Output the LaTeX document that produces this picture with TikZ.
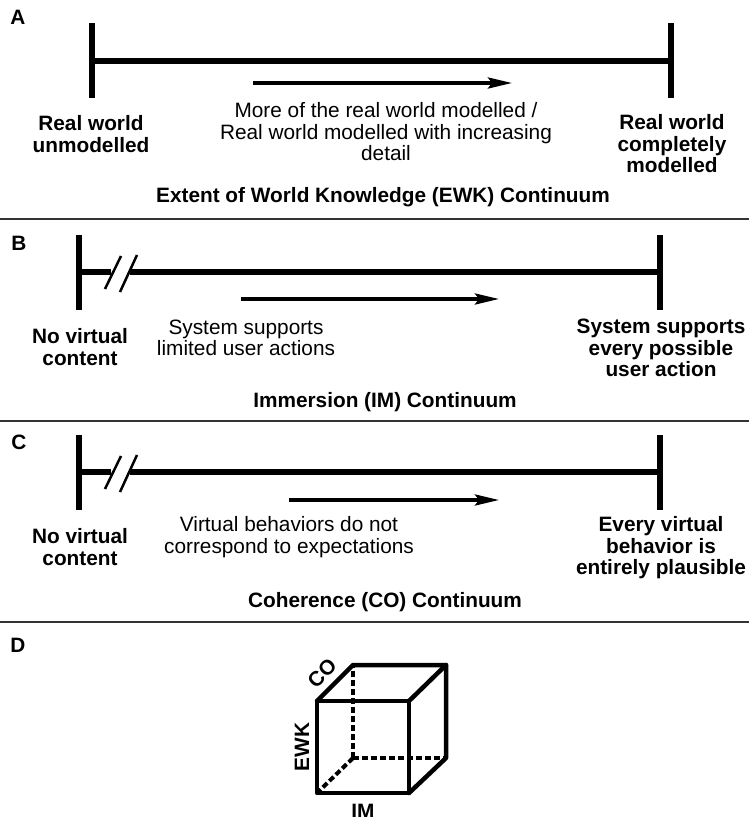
\documentclass[tikz,border=0pt]{standalone}
\usepackage{fontspec}
\setmainfont{Liberation Sans}
\usetikzlibrary{arrows.meta}
\newcommand{\labsize}{\fontsize{20.8}{21.5}\selectfont}
\tikzstyle{endbar}=[line width=6pt]
\tikzstyle{scalebar}=[line width=6pt]
\tikzstyle{slash}=[line width=2.5pt]
\tikzstyle{divider}=[line width=2pt, draw=black!80]
\tikzstyle{dirarrow}=[line width=3.5pt, -{Stealth[length=24pt,width=11pt,inset=4pt]}]
\tikzstyle{panel}=[font=\labsize\bfseries, inner sep=0pt]
\tikzstyle{endlabel}=[font=\labsize\bfseries, align=center, inner sep=0pt]
\tikzstyle{midlabel}=[font=\labsize, align=center, inner sep=0pt]
\tikzstyle{cubeedge}=[line width=4.5pt, line cap=round, line join=round]
\tikzstyle{hidden}=[line width=4pt, dash pattern=on 6pt off 3pt]
\begin{document}
\begin{tikzpicture}[x=1pt, y=-1pt]
    \useasboundingbox (0,0) rectangle (749,817);
    % A
    \node[panel] (pA) at (18,17) {A};
    \coordinate (a1t) at (92,23);
    \coordinate (a1b) at (92,98);
    \coordinate (a2t) at (671,23);
    \coordinate (a2b) at (671,98);
    \coordinate (a1) at (92,61);
    \coordinate (a2) at (671,61);
    \coordinate (as) at (253,83);
    \coordinate (ae) at (512,83);
    \node[endlabel] (lA) at (91,134) {Real world\\unmodelled};
    \node[midlabel] (mA) at (386,132) {More of the real world modelled /\\Real world modelled with increasing\\detail};
    \node[endlabel] (rA) at (672,144) {Real world\\completely\\modelled};
    \node[endlabel] (tA) at (383,197) {Extent of World Knowledge (EWK) Continuum};
    \coordinate (sA1) at (0,219);
    \coordinate (sA2) at (749,219);
    % B
    \node[panel] (pB) at (19,243) {B};
    \coordinate (b1t) at (79,235);
    \coordinate (b1b) at (79,310);
    \coordinate (b2t) at (660,235);
    \coordinate (b2b) at (660,310);
    \coordinate (b1) at (79,272);
    \coordinate (b1x) at (111,272);
    \coordinate (b2x) at (130,272);
    \coordinate (b2) at (660,272);
    \coordinate (bs1a) at (121,256);
    \coordinate (bs1b) at (105,289);
    \coordinate (bs2a) at (137,255);
    \coordinate (bs2b) at (120,292);
    \coordinate (bs) at (241,299);
    \coordinate (be) at (499,299);
    \node[endlabel] (lB) at (80,347) {No virtual\\content};
    \node[midlabel] (mB) at (246,338) {System supports\\limited user actions};
    \node[endlabel] (rB) at (661,348) {System supports\\every possible\\user action};
    \node[endlabel] (tB) at (385,402) {Immersion (IM) Continuum};
    \coordinate (sB1) at (0,421);
    \coordinate (sB2) at (749,421);
    % C
    \node[panel] (pC) at (19,442) {C};
    \coordinate (c1t) at (79,435);
    \coordinate (c1b) at (79,510);
    \coordinate (c2t) at (660,435);
    \coordinate (c2b) at (660,510);
    \coordinate (c1) at (79,472);
    \coordinate (c1x) at (111,472);
    \coordinate (c2x) at (130,472);
    \coordinate (c2) at (660,472);
    \coordinate (cs1a) at (121,456);
    \coordinate (cs1b) at (105,489);
    \coordinate (cs2a) at (137,455);
    \coordinate (cs2b) at (120,492);
    \coordinate (cs) at (289,500);
    \coordinate (ce) at (499,500);
    \node[endlabel] (lC) at (80,547) {No virtual\\content};
    \node[midlabel] (mC) at (289,537) {Virtual behaviors do not\\correspond to expectations};
    \node[endlabel] (rC) at (661,548) {Every virtual\\behavior is\\entirely plausible};
    \node[endlabel] (tC) at (385,602) {Coherence (CO) Continuum};
    \coordinate (sC1) at (0,622);
    \coordinate (sC2) at (749,622);
    \foreach \to/\from in {a1t/a1b, a2t/a2b, b1t/b1b, b2t/b2b, c1t/c1b, c2t/c2b}
      \draw[endbar] (\to) -- (\from);
    \foreach \to/\from in {a1/a2, b1/b1x, b2x/b2, c1/c1x, c2x/c2}
      \draw[scalebar] (\to) -- (\from);
    \foreach \to/\from in {bs1a/bs1b, bs2a/bs2b, cs1a/cs1b, cs2a/cs2b}
      \draw[slash] (\to) -- (\from);
    \foreach \to/\from in {as/ae, bs/be, cs/ce}
      \draw[dirarrow] (\to) -- (\from);
    \foreach \to/\from in {sA1/sA2, sB1/sB2, sC1/sC2}
      \draw[divider] (\to) -- (\from);
    % D
    \node[panel] (pD) at (18,645) {D};
    \coordinate (f1) at (317,793);
    \coordinate (f2) at (409,793);
    \coordinate (f3) at (409,701);
    \coordinate (f4) at (317,701);
    \coordinate (k1) at (353,758);
    \coordinate (k2) at (446,758);
    \coordinate (k3) at (446,665);
    \coordinate (k4) at (353,665);
    \foreach \to/\from in {k1/k4, k1/k2, k1/f1}
      \draw[hidden] (\to) -- (\from);
    \draw[cubeedge] (f1) -- (f2) -- (f3) -- (f4) -- cycle;
    \draw[cubeedge] (f4) -- (k4) -- (k3) -- (k2) -- (f2);
    \draw[cubeedge] (f3) -- (k3);
    \node[panel, rotate=45] (co) at (322,673) {CO};
    \node[panel, rotate=90] (ewk) at (302,747) {EWK};
    \node[panel] (im) at (363,811) {IM};
\end{tikzpicture}
\end{document}
